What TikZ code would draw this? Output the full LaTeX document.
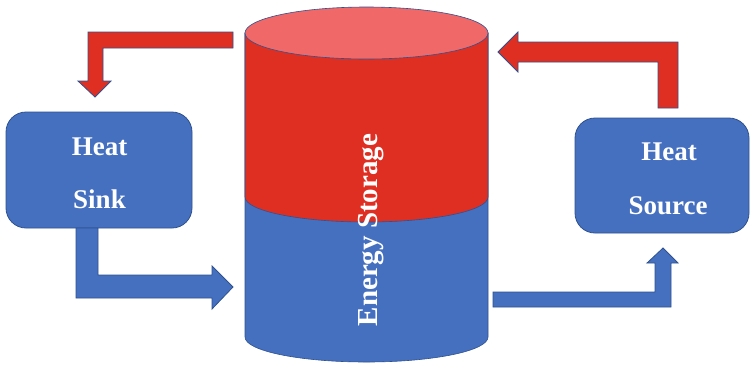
\documentclass[tikz,border=0pt]{standalone}
\usepackage{fontspec}
\setmainfont{Liberation Serif}
\definecolor{boxblue}{HTML}{4570BF}
\definecolor{edgeblue}{HTML}{2F528F}
\definecolor{hotred}{HTML}{DE2F22}
\definecolor{lidred}{HTML}{F06868}
\begin{document}
\begin{tikzpicture}[x=1pt,y=1pt,
  box/.style={draw=edgeblue,line width=0.8pt,fill=boxblue,rounded corners=20pt,inner sep=0pt,outer sep=0pt},
  boxtext/.style={text=white,font=\bfseries\fontsize{27}{27}\selectfont,anchor=base,inner sep=0pt},
  redarrow/.style={draw=edgeblue,line width=0.8pt,fill=hotred,line join=miter},
  bluearrow/.style={draw=edgeblue,line width=0.8pt,fill=boxblue,line join=miter},
  cylpart/.style={draw=edgeblue,line width=0.6pt}]
\path[use as bounding box] (0,0) rectangle (754,-368);
\fill[white] (0,0) rectangle (754,-368);

% boxes
\node[box,minimum width=186pt,minimum height=116pt] (sink) at (99,-170) {};
\node[box,minimum width=174pt,minimum height=115pt] (source) at (662,-175.5) {};
\node[boxtext] (sinkA) at (99.5,-155) {Heat};
\node[boxtext] (sinkB) at (99.5,-208) {Sink};
\node[boxtext] (sourceA) at (669,-160) {Heat};
\node[boxtext] (sourceB) at (668,-214) {Source};

% cylinder
\coordinate (cyltop) at (366.5,-33);
\coordinate (cylmid) at (366.5,-197);
\coordinate (cylbot) at (366.5,-337);
\draw[cylpart,fill=boxblue] (245,-33) -- (245,-337)
  arc[start angle=180,end angle=360,x radius=121.5pt,y radius=25pt] -- (488,-33) -- cycle;
\draw[cylpart,fill=hotred] (245,-33) -- (245,-197)
  arc[start angle=180,end angle=360,x radius=121.5pt,y radius=25pt] -- (488,-33) -- cycle;
\draw[cylpart,fill=lidred] (cyltop) ellipse[x radius=121.5pt,y radius=26pt];
\node[text=white,font=\bfseries\fontsize{29}{29}\selectfont,rotate=90,inner sep=0pt] (storage) at (371,-230) {Energy Storage};

% block arrows
\draw[redarrow] (233,-32) -- (88,-32) -- (88,-81) -- (78,-81) -- (95,-97) -- (111,-81)
  -- (103,-81) -- (103,-48) -- (233,-48) -- cycle;
\draw[redarrow] (678,-108) -- (678,-42) -- (518,-42) -- (518,-32) -- (498,-52) -- (518,-72)
  -- (518,-62) -- (658,-62) -- (658,-108) -- cycle;
\draw[bluearrow] (76,-228) -- (76,-298) -- (212,-298) -- (212,-309) -- (233,-287) -- (212,-266)
  -- (212,-275) -- (98,-275) -- (98,-228) -- cycle;
\draw[bluearrow] (493,-292) -- (493,-307) -- (671,-307) -- (671,-263) -- (678,-263) -- (663,-248)
  -- (647,-263) -- (655,-263) -- (655,-292) -- cycle;
\end{tikzpicture}
\end{document}
